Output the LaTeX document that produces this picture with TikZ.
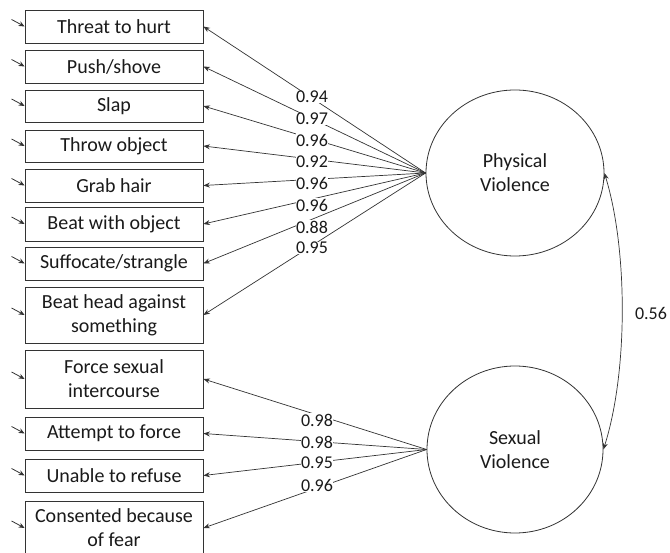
\documentclass[tikz,border=0pt]{standalone}
\usepackage{fontspec}
\setmainfont{Carlito}
\usetikzlibrary{shapes.geometric,arrows.meta}
\definecolor{ln}{HTML}{333333}
\definecolor{tx}{HTML}{1A1A1A}
\begin{document}
\begin{tikzpicture}[x=1pt,y=-1pt,
  ind/.style={draw=ln,line width=0.8pt,minimum width=178pt,inner sep=0pt,align=center,
    font=\fontsize{20}{24}\selectfont,text=tx},
  lat/.style={draw=ln,line width=0.8pt,ellipse,inner sep=0pt,align=center,
    font=\fontsize{20}{24}\selectfont,text=tx},
  load/.style={line width=0.7pt,draw=ln,-{Stealth[length=6.5pt,width=5pt]}},
  err/.style={line width=0.8pt,draw=ln,-{Stealth[length=6pt,width=5pt]}},
  coef/.style={fill=white,inner sep=0.5pt,font=\fontsize{18}{20}\selectfont,text=tx}]
\useasboundingbox (0,0) rectangle (670,553);
\fill[white] (0,0) rectangle (670,553);
% indicator boxes
\node[ind,minimum height=33pt] (b1) at (114,26.5) {Threat to hurt};
\node[ind,minimum height=33pt] (b2) at (114,66.5) {Push/shove};
\node[ind,minimum height=32pt] (b3) at (114,106) {Slap};
\node[ind,minimum height=32pt] (b4) at (114,146) {Throw object};
\node[ind,minimum height=33pt] (b5) at (114,185.5) {Grab hair};
\node[ind,minimum height=34pt] (b6) at (114,224) {Beat with object};
\node[ind,minimum height=33pt] (b7) at (114,263.5) {Suffocate/strangle};
\node[ind,minimum height=56pt] (b8) at (114,315) {Beat head against\\something};
\node[ind,minimum height=58pt] (b9) at (114,379) {Force sexual\\intercourse};
\node[ind,minimum height=33pt] (b10) at (114,433.5) {Attempt to force};
\node[ind,minimum height=33pt] (b11) at (114,475.5) {Unable to refuse};
\node[ind,minimum height=54pt] (b12) at (114,528) {Consented because\\of fear};
% latent variables
\node[lat,minimum width=178pt,minimum height=166pt] (P) at (515,173) {Physical\\Violence};
\node[lat,minimum width=176pt,minimum height=167pt] (S) at (515,449.5) {Sexual\\Violence};
% error arrows
\foreach \i in {1,...,12}{
  \coordinate (e\i) at ([shift={(-13,-7)}]b\i.west);
  \draw[err] (e\i) -- (b\i.west);
}
% loadings
\foreach \i in {1,...,8}{ \draw[load] (P.west) -- (b\i.east); }
\foreach \i in {9,...,12}{ \draw[load] (S.west) -- (b\i.east); }
% coefficient labels
\node[coef] (c1) at (312,97) {0.94};
\node[coef] (c2) at (312,119) {0.97};
\node[coef] (c3) at (312,140) {0.96};
\node[coef] (c4) at (312,162) {0.92};
\node[coef] (c5) at (312,183) {0.96};
\node[coef] (c6) at (312,205) {0.96};
\node[coef] (c7) at (312,227) {0.88};
\node[coef] (c8) at (312,248) {0.95};
\node[coef] (c9) at (317,420) {0.98};
\node[coef] (c10) at (317,442) {0.98};
\node[coef] (c11) at (317,463) {0.95};
\node[coef] (c12) at (317,485) {0.96};
% correlation
\draw[line width=0.7pt,draw=ln,{Stealth[length=6.5pt,width=5pt]}-{Stealth[length=6.5pt,width=5pt]}]
  (P.east) .. controls (628,250) and (628,372) .. (S.east);
\node[font=\fontsize{18}{20}\selectfont,text=tx] (r) at (651,313) {0.56};
\end{tikzpicture}
\end{document}
